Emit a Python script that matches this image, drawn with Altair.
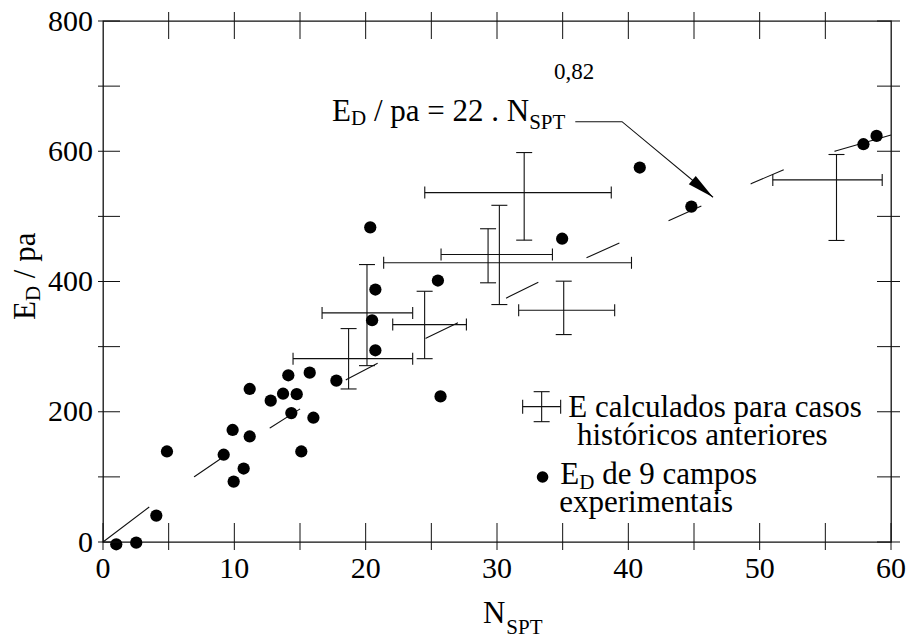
import altair as alt
import pandas as pd

FONT = "'Liberation Serif', 'Times New Roman', Times, 'DejaVu Serif', serif"

# ---------------- data ----------------
# E_D of 9 experimental sites (filled circles)
ed_n = [1.01, 2.53, 4.06, 4.87, 9.19, 9.95, 10.71, 9.87, 11.17, 11.17, 12.77, 13.71, 14.75, 14.11,
        14.34, 15.74, 16.02, 15.10, 17.77, 20.74, 20.49, 20.74, 20.35, 25.50, 25.70, 34.96, 40.87,
        44.80, 57.90, 58.90]
ed_e = [-3.5, -1.0, 40.5, 139.0, 134.0, 92.8, 112.8, 172.0, 162.0, 235.0, 217.0, 227.7, 227.0, 256.0,
        198.0, 260.0, 190.8, 139.0, 247.7, 387.7, 340.5, 294.4, 483.2, 401.5, 223.6, 465.7, 575.0,
        515.0, 610.8, 623.6]

# E calculated for previous case histories (crosses)
cr_n = [32.07, 29.32, 30.18, 35.08, 24.49, 20.10, 18.70, 55.85]
cr_e = [536.5, 441.5, 428.7, 355.9, 333.8, 351.8, 281.5, 556.0]
cr_n_lo = [24.50, 25.74, 21.37, 31.65, 22.06, 16.68, 14.47, 51.00]
cr_n_hi = [38.70, 34.22, 40.24, 38.96, 27.67, 23.58, 23.58, 59.33]
cr_e_lo = [463.5, 398.0, 364.6, 318.5, 281.5, 270.8, 235.0, 463.0]
cr_e_hi = [598.0, 481.0, 517.0, 400.5, 385.0, 426.0, 327.7, 595.0]

# fitted curve E_D/pa = 22 . N^0.82
fit_n = [0, 3.55, 6.95, 8.93, 12.74, 15.03, 18.58, 20.91, 24.62, 27.13, 30.76, 33.22, 36.90,
         39.39, 43.19, 45.61, 49.42, 51.95, 55.84, 60.0]
fit_e = [0, 54.2, 100.3, 127.4, 175.5, 204.7, 249.8, 274.4, 313.2, 337.8, 375.1, 399.7, 437.2,
         459.6, 494.4, 516.4, 550.8, 572.7, 600.8, 625.0]

# axis ticks
x_ticks = [0, 5, 10, 15, 20, 25, 30, 35, 40, 45, 50, 55, 60]
x_labels = [0, 10, 20, 30, 40, 50, 60]
y_ticks = [0, 100, 200, 300, 400, 500, 600, 700, 800]
y_labels = [0, 200, 400, 600, 800]

# arrow of the equation label
arrow_n = [35.96, 39.52, 46.45]
arrow_e = [645.4, 645.4, 529.3]

# ---------------- layout ----------------
W, H = 788, 521
PXX = W / 60.0
PXY = H / 800.0
xs = alt.Scale(domain=[0, 60], nice=False, zero=False)
ys = alt.Scale(domain=[0, 800], nice=False, zero=False)
INK = "#111111"

TW = {'E': .611, 'D': .722, 'N': .722, 'S': .556, 'P': .556, 'T': .611, ' ': .25, '/': .278,
      'p': .5, 'a': .444, '=': .564, '2': .5, '.': .25, '0': .5, ',': .25, '8': .5}


def tw(s, size):
    return sum(TW.get(c, .5) for c in s) * size


def X(field):
    return alt.X(field, scale=xs, axis=None)


def Y(field):
    return alt.Y(field, scale=ys, axis=None)


layers = []

# fitted curve, dashed
fit_df = pd.DataFrame({"n": fit_n, "e": fit_e})
dash = [58, 54] + [36, 54] * 8 + [62, 10]
layers.append(alt.Chart(fit_df).mark_line(color=INK, strokeWidth=1.1, strokeDash=dash)
              .encode(x=X("n:Q"), y=Y("e:Q")))

# crosses
cr = pd.DataFrame({"n": cr_n, "e": cr_e, "nlo": cr_n_lo, "nhi": cr_n_hi, "elo": cr_e_lo, "ehi": cr_e_hi})
layers.append(alt.Chart(cr).mark_rule(color=INK, strokeWidth=1.1)
              .encode(x=X("nlo:Q"), x2="nhi:Q", y=Y("e:Q")))
layers.append(alt.Chart(cr).mark_rule(color=INK, strokeWidth=1.1)
              .encode(x=X("n:Q"), y=Y("elo:Q"), y2="ehi:Q"))
for f in ["nlo", "nhi"]:
    layers.append(alt.Chart(cr).mark_rule(color=INK, strokeWidth=1.1, yOffset=-6, y2Offset=6)
                  .encode(x=X(f + ":Q"), y=Y("e:Q"), y2="e:Q"))
for f in ["elo", "ehi"]:
    layers.append(alt.Chart(cr).mark_rule(color=INK, strokeWidth=1.1, xOffset=-8, x2Offset=8)
                  .encode(x=X("n:Q"), x2="n:Q", y=Y(f + ":Q")))

# experimental points
ed = pd.DataFrame({"n": ed_n, "e": ed_e})
layers.append(alt.Chart(ed).mark_point(filled=True, color="black", opacity=1, size=150)
              .encode(x=X("n:Q"), y=Y("e:Q")))

# ticks on the four sides (crossing the frame)
xt = pd.DataFrame({"v": x_ticks, "b": 0, "t": 800})
xt_top = xt[(xt.v > 0) & (xt.v < 60)]
yt = pd.DataFrame({"v": y_ticks, "l": 0, "r": 60})
layers.append(alt.Chart(xt).mark_rule(color=INK, strokeWidth=1, yOffset=8, y2Offset=-19)
              .encode(x=X("v:Q"), y=Y("b:Q"), y2="b:Q"))
layers.append(alt.Chart(xt_top).mark_rule(color=INK, strokeWidth=1, yOffset=-9, y2Offset=18)
              .encode(x=X("v:Q"), y=Y("t:Q"), y2="t:Q"))
layers.append(alt.Chart(yt).mark_rule(color=INK, strokeWidth=1, xOffset=-5, x2Offset=17)
              .encode(x=X("l:Q"), x2="l:Q", y=Y("v:Q")))
layers.append(alt.Chart(yt).mark_rule(color=INK, strokeWidth=1, xOffset=9, x2Offset=-14)
              .encode(x=X("r:Q"), x2="r:Q", y=Y("v:Q")))

# tick labels
xl = pd.DataFrame({"v": x_labels, "b": 0, "t": [str(v) for v in x_labels]})
layers.append(alt.Chart(xl).mark_text(font=FONT, fontSize=30, align="center", baseline="alphabetic",
                                      dy=36, color="black")
              .encode(x=X("v:Q"), y=Y("b:Q"), text="t:N"))
yl = pd.DataFrame({"v": y_labels, "l": 0, "t": [str(v) for v in y_labels]})
layers.append(alt.Chart(yl).mark_text(font=FONT, fontSize=30, align="right", baseline="alphabetic",
                                      dx=-10, dy=9.5, color="black")
              .encode(x=X("l:Q"), y=Y("v:Q"), text="t:N"))

# arrow of the equation
ar = pd.DataFrame({"n": arrow_n, "e": arrow_e, "o": [0, 1, 2]})
layers.append(alt.Chart(ar).mark_line(color=INK, strokeWidth=1.1)
              .encode(x=X("n:Q"), y=Y("e:Q"), order="o:Q"))
tip = ar.iloc[[2]]
layers.append(alt.Chart(tip).mark_point(shape="M0,0L-2,-0.4L-2,0.4Z", filled=True, color="black",
                                        opacity=1, size=729, angle=39.7)
              .encode(x=X("n:Q"), y=Y("e:Q")))

# legend cross
lg = pd.DataFrame({"n": [33.4], "e": [207.8]})
lg["nlo"] = lg.n - 19 / PXX
lg["nhi"] = lg.n + 19 / PXX
lg["elo"] = lg.e - 15 / PXY
lg["ehi"] = lg.e + 15 / PXY
layers.append(alt.Chart(lg).mark_rule(color=INK, strokeWidth=1.1).encode(x=X("nlo:Q"), x2="nhi:Q", y=Y("e:Q")))
layers.append(alt.Chart(lg).mark_rule(color=INK, strokeWidth=1.1).encode(x=X("n:Q"), y=Y("elo:Q"), y2="ehi:Q"))
for f in ["nlo", "nhi"]:
    layers.append(alt.Chart(lg).mark_rule(color=INK, strokeWidth=1.1, yOffset=-7, y2Offset=7)
                  .encode(x=X(f + ":Q"), y=Y("e:Q"), y2="e:Q"))
for f in ["elo", "ehi"]:
    layers.append(alt.Chart(lg).mark_rule(color=INK, strokeWidth=1.1, xOffset=-8, x2Offset=8)
                  .encode(x=X("n:Q"), x2="n:Q", y=Y(f + ":Q")))
# legend bullet
lb = pd.DataFrame({"n": [33.47], "e": [99.8]})
layers.append(alt.Chart(lb).mark_point(filled=True, color="black", opacity=1, size=135)
              .encode(x=X("n:Q"), y=Y("e:Q")))

# ---------------- texts (with sub/superscripts) ----------------
rows = []


def piece(t, ax, ay, dx=0.0, dy=0.0, size=31):
    rows.append({"t": t, "x": ax + dx / PXX, "y": ay - dy / PXY, "s": size})


# equation
ax, ay = 17.44, 646.9
piece("E", ax, ay)
piece("D", ax, ay, dx=tw("E", 31), dy=4.5, size=21)
d0 = tw("E", 31) + tw("D", 21)
piece("/ pa = 22 . N", ax, ay, dx=d0 + tw(" ", 31))
d1 = d0 + tw(" / pa = 22 . N", 31)
piece("SPT", ax, ay, dx=d1, dy=8.5, size=21)
piece("0,82", ax, ay, dx=222.0, dy=-41.5, size=23)

# legend texts
piece("E calculados para casos", 35.43, 192.4)
piece("históricos anteriores", 36.09, 148.9)
lx, ly = 34.82, 89.1
piece("E", lx, ly)
piece("D", lx, ly, dx=tw("E", 31), dy=5, size=21)
piece("de 9 campos", lx, ly, dx=tw("E", 31) + tw("D", 21) + tw(" ", 31))
piece("experimentais", 34.74, 46.5)

# x axis title
tx, ty = 28.93, 0
piece("N", tx, ty, dy=81.3)
piece("SPT", tx, ty, dx=tw("N", 31) + 1, dy=92.3, size=21)

txt = pd.DataFrame(rows)
layers.append(alt.Chart(txt).mark_text(font=FONT, align="left", baseline="alphabetic", color="black")
              .encode(x=X("x:Q"), y=Y("y:Q"), text="t:N", size=alt.Size("s:Q", scale=None, legend=None)))

# y axis title (rotated)
rrows = []
yx, yy = -5.155, 340.9


def rpiece(t, along=0.0, across=0.0, size=31):
    rrows.append({"t": t, "x": yx + across / PXX, "y": yy + along / PXY, "s": size})


rpiece("E")
rpiece("D", along=tw("E", 31), across=5, size=21)
rpiece("/ pa", along=tw("E", 31) + tw("D", 21) + tw(" ", 31))
rt = pd.DataFrame(rrows)
layers.append(alt.Chart(rt).mark_text(font=FONT, align="left", baseline="alphabetic", color="black", angle=270)
              .encode(x=X("x:Q"), y=Y("y:Q"), text="t:N", size=alt.Size("s:Q", scale=None, legend=None)))

chart = (alt.layer(*layers)
         .properties(width=W, height=H, padding={"left": 103, "top": 21, "right": 29, "bottom": 97},
                     autosize=alt.AutoSizeParams(type="none"), background="white")
         .configure_view(stroke=INK, strokeWidth=1.3))

chart.save("out.html", embed_options={"renderer": "svg", "actions": False})
